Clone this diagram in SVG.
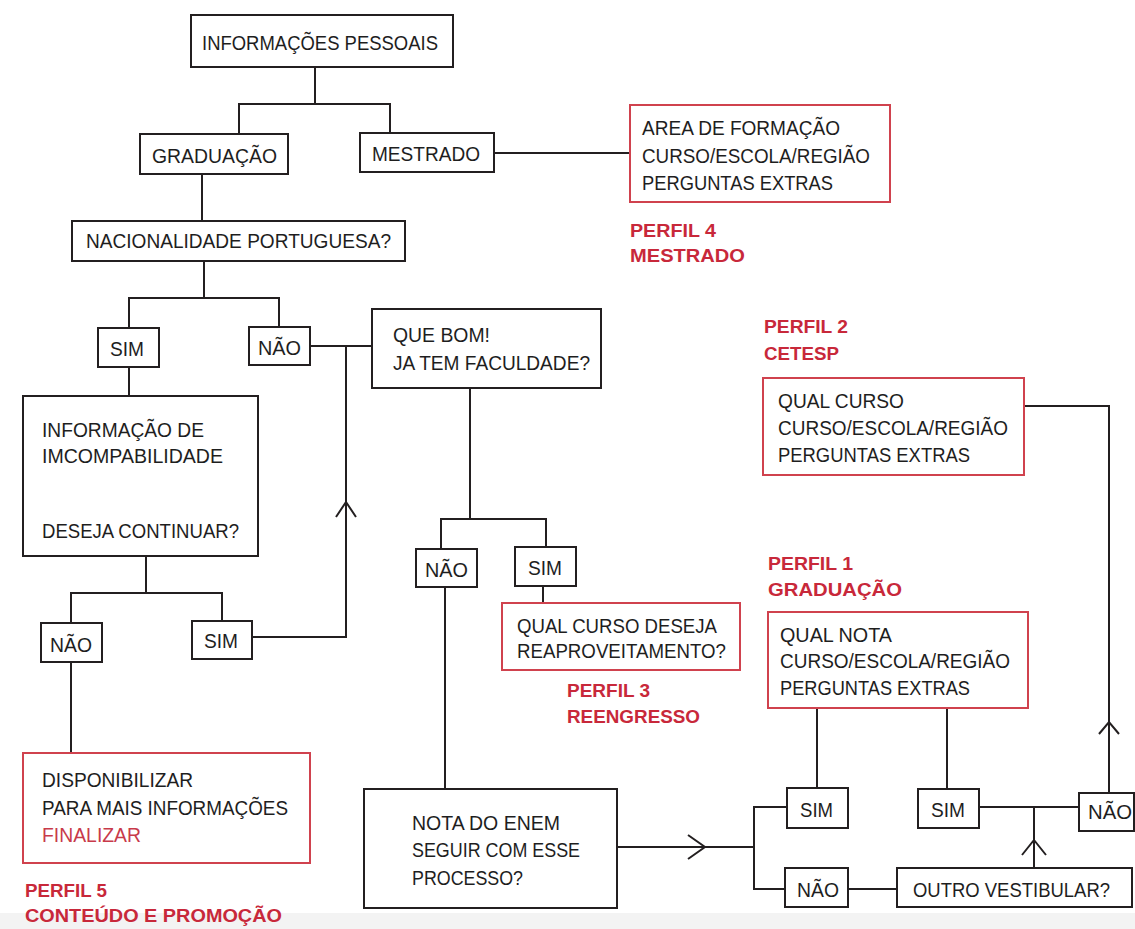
<svg xmlns="http://www.w3.org/2000/svg" width="1135" height="929" viewBox="0 0 1135 929">
<style>
.bx{fill:#fff;stroke:#231f20;stroke-width:2}
.rb{fill:#fff;stroke:#d0424e;stroke-width:2}
.t{font-family:"Liberation Sans",Arial,sans-serif;font-size:20px;fill:#1e1e1e}
.r{font-family:"Liberation Sans",Arial,sans-serif;font-size:18px;font-weight:bold;fill:#c8283a}
.rt{fill:#c83a4a}
.ln{fill:none;stroke:#231f20;stroke-width:2}
</style>
<rect x="0" y="0" width="1135" height="929" fill="#fff"/>
<rect x="0" y="913" width="1135" height="16" fill="#f3f3f3"/>
<g id="connectors">
<path class="ln" d="M315 67V104M239 134V104H390V133"/>
<path class="ln" d="M494 153H630"/>
<path class="ln" d="M202 174V221"/>
<path class="ln" d="M204 261V298M129 328V298H279V327"/>
<path class="ln" d="M129 367V396"/>
<path class="ln" d="M310 346H372M346 346V637H252"/>
<path class="ln" d="M336 517L346 502L356 517"/>
<path class="ln" d="M146 556V593M71 623V593H222V621"/>
<path class="ln" d="M71 662V753"/>
<path class="ln" d="M470 388V519M441 549V519H546V547"/>
<path class="ln" d="M543 586V603"/>
<path class="ln" d="M445 587V789"/>
<path class="ln" d="M617 847H754M688 835L705 847L688 859"/>
<path class="ln" d="M787 807H754V889H785"/>
<path class="ln" d="M817 708V788"/>
<path class="ln" d="M848 889H897"/>
<path class="ln" d="M947 708V789"/>
<path class="ln" d="M979 807H1079"/>
<path class="ln" d="M1034 868V807M1022 855L1034 840L1046 855"/>
<path class="ln" d="M1109 793V406H1024M1099 734L1109 722L1119 734"/>
</g>
<g id="n-info"><rect class="bx" x="191" y="15" width="262" height="52"/><text class="t" x="202" y="50" textLength="236" lengthAdjust="spacingAndGlyphs">INFORMAÇÕES PESSOAIS</text></g>
<g id="n-graduacao"><rect class="bx" x="140" y="134" width="148" height="40"/><text class="t" x="152" y="163" textLength="125" lengthAdjust="spacingAndGlyphs">GRADUAÇÃO</text></g>
<g id="n-mestrado"><rect class="bx" x="360" y="133" width="134" height="39"/><text class="t" x="372" y="161" textLength="108" lengthAdjust="spacingAndGlyphs">MESTRADO</text></g>
<g id="n-area"><rect class="rb" x="630" y="105" width="260" height="97"/>
<text class="t" x="642" y="135" textLength="198" lengthAdjust="spacingAndGlyphs">AREA DE FORMAÇÃO</text>
<text class="t" x="642" y="163" textLength="228" lengthAdjust="spacingAndGlyphs">CURSO/ESCOLA/REGIÃO</text>
<text class="t" x="642" y="190" textLength="191" lengthAdjust="spacingAndGlyphs">PERGUNTAS EXTRAS</text></g>
<g id="perfil4"><text class="r" x="630" y="237" textLength="86" lengthAdjust="spacingAndGlyphs">PERFIL 4</text><text class="r" x="630" y="262" textLength="115" lengthAdjust="spacingAndGlyphs">MESTRADO</text></g>
<g id="n-nacionalidade"><rect class="bx" x="72" y="221" width="333" height="40"/><text class="t" x="86" y="248" textLength="305" lengthAdjust="spacingAndGlyphs">NACIONALIDADE PORTUGUESA?</text></g>
<g id="n-sim1"><rect class="bx" x="98" y="328" width="61" height="39"/><text class="t" x="110" y="356" textLength="34" lengthAdjust="spacingAndGlyphs">SIM</text></g>
<g id="n-nao1"><rect class="bx" x="249" y="327" width="61" height="38"/><text class="t" x="258" y="355" textLength="43" lengthAdjust="spacingAndGlyphs">NÃO</text></g>
<g id="n-quebom"><rect class="bx" x="372" y="309" width="229" height="79"/>
<text class="t" x="393" y="342" textLength="97" lengthAdjust="spacingAndGlyphs">QUE BOM!</text>
<text class="t" x="393" y="370" textLength="197" lengthAdjust="spacingAndGlyphs">JA TEM FACULDADE?</text></g>
<g id="perfil2"><text class="r" x="764" y="333" textLength="84" lengthAdjust="spacingAndGlyphs">PERFIL 2</text><text class="r" x="764" y="360" textLength="75" lengthAdjust="spacingAndGlyphs">CETESP</text></g>
<g id="n-qualcurso"><rect class="rb" x="763" y="378" width="261" height="97"/>
<text class="t" x="778" y="408" textLength="126" lengthAdjust="spacingAndGlyphs">QUAL CURSO</text>
<text class="t" x="778" y="435" textLength="230" lengthAdjust="spacingAndGlyphs">CURSO/ESCOLA/REGIÃO</text>
<text class="t" x="778" y="462" textLength="192" lengthAdjust="spacingAndGlyphs">PERGUNTAS EXTRAS</text></g>
<g id="n-incompat"><rect class="bx" x="23" y="396" width="235" height="160"/>
<text class="t" x="42" y="437" textLength="162" lengthAdjust="spacingAndGlyphs">INFORMAÇÃO DE</text>
<text class="t" x="42" y="463" textLength="181" lengthAdjust="spacingAndGlyphs">IMCOMPABILIDADE</text>
<text class="t" x="42" y="538" textLength="197" lengthAdjust="spacingAndGlyphs">DESEJA CONTINUAR?</text></g>
<g id="n-nao3"><rect class="bx" x="416" y="549" width="61" height="38"/><text class="t" x="425" y="577" textLength="43" lengthAdjust="spacingAndGlyphs">NÃO</text></g>
<g id="n-sim3"><rect class="bx" x="515" y="547" width="61" height="39"/><text class="t" x="528" y="575" textLength="34" lengthAdjust="spacingAndGlyphs">SIM</text></g>
<g id="perfil1"><text class="r" x="768" y="570" textLength="85" lengthAdjust="spacingAndGlyphs">PERFIL 1</text><text class="r" x="768" y="596" textLength="134" lengthAdjust="spacingAndGlyphs">GRADUAÇÃO</text></g>
<g id="n-qualcursodeseja"><rect class="rb" x="502" y="603" width="238" height="67"/>
<text class="t" x="517" y="633" textLength="200" lengthAdjust="spacingAndGlyphs">QUAL CURSO DESEJA</text>
<text class="t" x="517" y="658" textLength="209" lengthAdjust="spacingAndGlyphs">REAPROVEITAMENTO?</text></g>
<g id="perfil3"><text class="r" x="567" y="697" textLength="83" lengthAdjust="spacingAndGlyphs">PERFIL 3</text><text class="r" x="567" y="723" textLength="133" lengthAdjust="spacingAndGlyphs">REENGRESSO</text></g>
<g id="n-qualnota"><rect class="rb" x="768" y="612" width="260" height="96"/>
<text class="t" x="780" y="642" textLength="112" lengthAdjust="spacingAndGlyphs">QUAL NOTA</text>
<text class="t" x="780" y="668" textLength="230" lengthAdjust="spacingAndGlyphs">CURSO/ESCOLA/REGIÃO</text>
<text class="t" x="780" y="695" textLength="190" lengthAdjust="spacingAndGlyphs">PERGUNTAS EXTRAS</text></g>
<g id="n-nao2"><rect class="bx" x="41" y="623" width="61" height="39"/><text class="t" x="50" y="652" textLength="42" lengthAdjust="spacingAndGlyphs">NÃO</text></g>
<g id="n-sim2"><rect class="bx" x="192" y="621" width="60" height="38"/><text class="t" x="204" y="648" textLength="34" lengthAdjust="spacingAndGlyphs">SIM</text></g>
<g id="n-disponibilizar"><rect class="rb" x="23" y="753" width="287" height="110"/>
<text class="t" x="42" y="787" textLength="151" lengthAdjust="spacingAndGlyphs">DISPONIBILIZAR</text>
<text class="t" x="42" y="815" textLength="246" lengthAdjust="spacingAndGlyphs">PARA MAIS INFORMAÇÕES</text>
<text class="t rt" x="42" y="842" textLength="99" lengthAdjust="spacingAndGlyphs">FINALIZAR</text></g>
<g id="perfil5"><text class="r" x="25" y="897" textLength="82" lengthAdjust="spacingAndGlyphs">PERFIL 5</text><text class="r" x="25" y="922" textLength="257" lengthAdjust="spacingAndGlyphs">CONTEÚDO E PROMOÇÃO</text></g>
<g id="n-enem"><rect class="bx" x="364" y="789" width="253" height="119"/>
<text class="t" x="412" y="830" textLength="148" lengthAdjust="spacingAndGlyphs">NOTA DO ENEM</text>
<text class="t" x="412" y="857" textLength="168" lengthAdjust="spacingAndGlyphs">SEGUIR COM ESSE</text>
<text class="t" x="412" y="885" textLength="111" lengthAdjust="spacingAndGlyphs">PROCESSO?</text></g>
<g id="n-sim4"><rect class="bx" x="787" y="788" width="61" height="40"/><text class="t" x="800" y="817" textLength="33" lengthAdjust="spacingAndGlyphs">SIM</text></g>
<g id="n-nao4"><rect class="bx" x="785" y="868" width="63" height="39"/><text class="t" x="797" y="897" textLength="42" lengthAdjust="spacingAndGlyphs">NÃO</text></g>
<g id="n-outro"><rect class="bx" x="897" y="868" width="235" height="39"/><text class="t" x="913" y="897" textLength="197" lengthAdjust="spacingAndGlyphs">OUTRO VESTIBULAR?</text></g>
<g id="n-sim5"><rect class="bx" x="918" y="789" width="61" height="39"/><text class="t" x="931" y="817" textLength="34" lengthAdjust="spacingAndGlyphs">SIM</text></g>
<g id="n-nao5"><rect class="bx" x="1079" y="793" width="55" height="38"/><text class="t" x="1088" y="819" textLength="44" lengthAdjust="spacingAndGlyphs">NÃO</text></g>
</svg>
